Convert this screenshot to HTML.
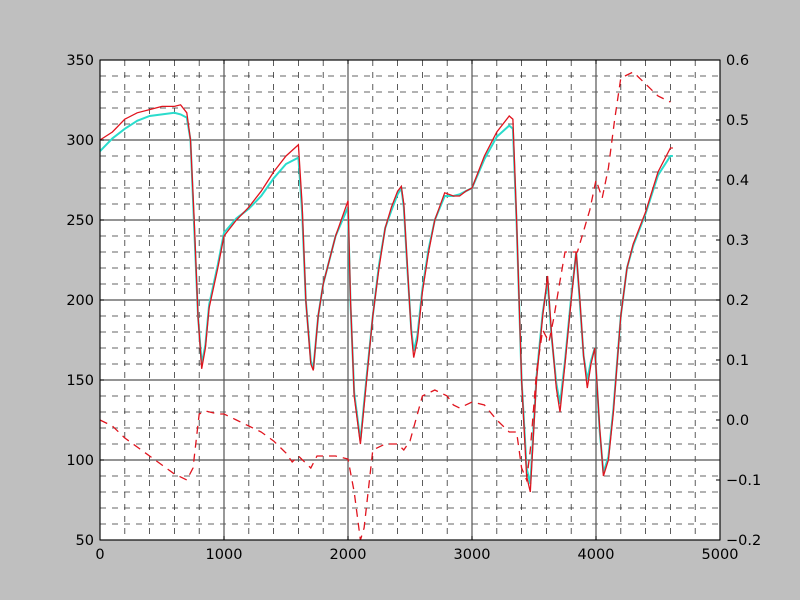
<!DOCTYPE html>
<html><head><meta charset="utf-8"><style>
body{margin:0;background:#bfbfbf;}
svg{display:block;font-family:"DejaVu Sans","Liberation Sans",sans-serif;}
</style></head><body>
<svg id="chart" width="800" height="600">
<rect x="0" y="0" width="800" height="600" fill="#bfbfbf"/>
<rect x="100" y="60" width="620" height="480" fill="#ffffff"/>
<g id="grid"></g>
<g id="series"></g>
<rect x="100" y="60" width="620" height="480" fill="none" stroke="#000" stroke-width="1"/>
<g id="axes"></g>
</svg>
<script>
const xTicks=[0,1000,2000,3000,4000,5000];
const yLeftTicks=[50,100,150,200,250,300,350];
const yRightTicks=[-0.2,-0.1,0.0,0.1,0.2,0.3,0.4,0.5,0.6];
const yRightLabels=["\u22120.2","\u22120.1","0.0","0.1","0.2","0.3","0.4","0.5","0.6"];
const redX=[0,100,200,300,400,500,600,650,700,730,760,790,820,850,880,950,1000,1100,1200,1300,1400,1500,1600,1630,1660,1700,1720,1760,1800,1900,2000,2020,2050,2100,2150,2200,2250,2300,2350,2400,2430,2450,2480,2510,2530,2560,2600,2650,2700,2780,2850,2900,2950,3000,3100,3200,3300,3330,3360,3400,3440,3470,3520,3570,3610,3640,3680,3710,3750,3800,3840,3870,3900,3930,3960,3990,4030,4060,4100,4140,4200,4250,4300,4400,4500,4600,4620];
const redY=[300,305,313,317,319,321,321,322,317,300,250,190,157,170,195,220,240,250,258,268,280,290,297,260,200,160,156,190,210,240,262,200,140,110,150,190,220,245,258,268,271,260,220,180,164,175,205,230,250,267,265,265,268,270,290,305,315,313,250,150,90,80,150,190,215,180,145,130,160,200,230,200,165,145,160,170,120,90,100,130,190,220,235,255,280,295,295];
const cyanX=[0,100,200,300,400,500,600,650,700,730,760,790,820,850,880,950,1000,1100,1200,1300,1400,1500,1600,1630,1660,1700,1720,1760,1800,1900,2000,2020,2050,2100,2150,2200,2250,2300,2350,2400,2430,2450,2480,2510,2530,2560,2600,2650,2700,2780,2850,2900,2950,3000,3100,3200,3300,3330,3360,3400,3440,3470,3520,3570,3610,3640,3680,3710,3750,3800,3840,3870,3900,3930,3960,3990,4030,4060,4100,4140,4200,4250,4300,4400,4500,4600,4620];
const cyanY=[293,301,307,312,315,316,317,316,314,300,245,190,160,172,197,222,242,251,257,265,276,285,289,255,200,162,157,190,210,240,258,198,142,112,152,190,222,245,256,266,270,258,218,182,168,178,207,232,250,265,265,266,268,270,288,302,309,307,248,150,95,85,152,192,212,178,148,135,162,202,230,198,165,150,162,170,118,92,102,132,190,220,234,254,278,290,290];
const dashX=[0,100,200,300,400,500,600,700,750,800,850,950,1000,1100,1200,1300,1400,1500,1550,1600,1700,1750,1800,1900,2000,2050,2100,2130,2200,2300,2400,2450,2500,2600,2700,2800,2850,2900,3000,3100,3200,3300,3360,3400,3440,3470,3520,3570,3620,3660,3700,3750,3850,3950,4000,4050,4100,4150,4200,4300,4400,4500,4600];
const dashY=[0.0,-0.01,-0.03,-0.045,-0.06,-0.075,-0.09,-0.1,-0.08,0.01,0.015,0.01,0.01,0.0,-0.01,-0.02,-0.035,-0.055,-0.07,-0.06,-0.08,-0.06,-0.06,-0.06,-0.065,-0.12,-0.2,-0.18,-0.05,-0.04,-0.04,-0.05,-0.035,0.04,0.05,0.04,0.025,0.02,0.03,0.025,0.0,-0.02,-0.02,-0.08,-0.1,-0.05,0.08,0.15,0.13,0.17,0.22,0.28,0.28,0.35,0.4,0.37,0.42,0.5,0.57,0.58,0.56,0.54,0.53];

const L=100,R=720,T=60,B=540;
const sx=v=>L+(v-0)/5000*(R-L);
const syL=v=>B-(v-50)/300*(B-T);
const syR=v=>B-(v+0.2)/0.8*(B-T);
const NS="http://www.w3.org/2000/svg";
function mk(tag,attrs,parent){const e=document.createElementNS(NS,tag);for(const k in attrs)e.setAttribute(k,attrs[k]);parent.appendChild(e);return e;}
const grid=document.getElementById('grid'),series=document.getElementById('series'),axes=document.getElementById('axes');

for(let v=0;v<=5000;v+=200){if(v%1000===0)continue;const x=sx(v);
 const l=mk('line',{x1:x,y1:T,x2:x,y2:B,stroke:'#333','stroke-width':0.8,'stroke-dasharray':'6,6'},grid);
 
 }
for(let v=50;v<=350;v+=10){if(v%50===0)continue;const y=syL(v);
 const l=mk('line',{x1:L,y1:y,x2:R,y2:y,stroke:'#333','stroke-width':0.8,'stroke-dasharray':'6,6'},grid);
 
 }
xTicks.forEach(v=>{const x=sx(v);
 const l=mk('line',{x1:x,y1:T,x2:x,y2:B,stroke:'#555','stroke-width':1.2},grid);
 
 });
yLeftTicks.forEach(v=>{const y=syL(v);
 const l=mk('line',{x1:L,y1:y,x2:R,y2:y,stroke:'#555','stroke-width':1.2},grid);
 
 });

function path(xs,ys,fy){return xs.map((x,i)=>(i?'L':'M')+sx(x).toFixed(1)+','+fy(ys[i]).toFixed(1)).join('');}
const c=mk('path',{d:path(cyanX,cyanY,syL),fill:'none',stroke:'#2adccc','stroke-width':2},series);


const r=mk('path',{d:path(redX,redY,syL),fill:'none',stroke:'#e0141e','stroke-width':1.3},series);


const d=mk('path',{d:path(dashX,dashY,syR),fill:'none',stroke:'#e0141e','stroke-width':1.3,'stroke-dasharray':'8,6'},series);



xTicks.forEach(v=>{const x=sx(v);
 mk('line',{x1:x,y1:B,x2:x,y2:B-4,stroke:'#000'},axes);
 mk('line',{x1:x,y1:T,x2:x,y2:T+4,stroke:'#000'},axes);
 const t=mk('text',{x:x,y:B+19,'text-anchor':'middle','font-size':'14.5'},axes);t.textContent=v;
 
 });
yLeftTicks.forEach(v=>{const y=syL(v);
 mk('line',{x1:L,y1:y,x2:L+4,y2:y,stroke:'#000'},axes);
 const t=mk('text',{x:L-6,y:y+5,'text-anchor':'end','font-size':'14.5'},axes);t.textContent=v;
 
 });
yRightTicks.forEach((v,i)=>{const y=syR(v);
 mk('line',{x1:R,y1:y,x2:R-4,y2:y,stroke:'#000'},axes);
 const t=mk('text',{x:R+6,y:y+5,'text-anchor':'start','font-size':'14.5'},axes);t.textContent=yRightLabels[i];
 
 });
</script>
</body></html>
